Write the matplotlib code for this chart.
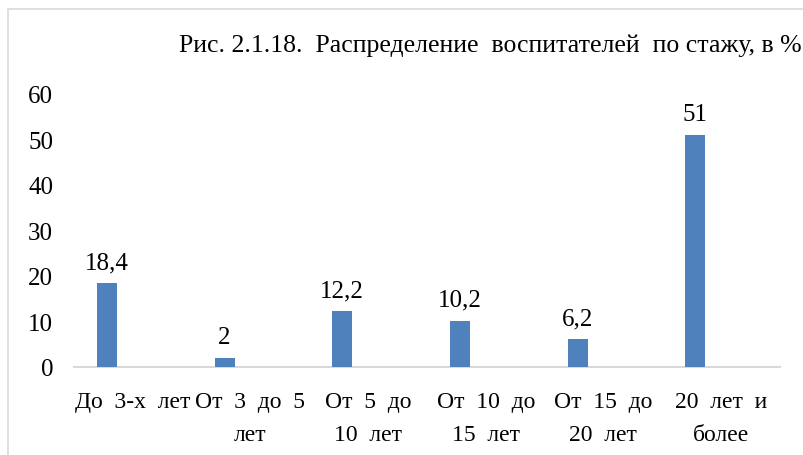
import matplotlib.pyplot as plt
import numpy as np
from matplotlib.patches import Rectangle

categories = ['До  3-х  лет', 'От  3  до  5\nлет', 'От  5  до\n10  лет',
              'От  10  до\n15  лет', 'От  15  до\n20  лет', '20  лет  и\nболее']
values = [18.4, 2, 12.2, 10.2, 6.2, 51]
value_labels = ['18,4', '2', '12,2', '10,2', '6,2', '51']
title = 'Рис. 2.1.18.  Распределение  воспитателей  по стажу, в %'

plt.rcParams['font.family'] = ['Liberation Serif', 'DejaVu Serif']

fig = plt.figure(figsize=(8.04, 4.56), dpi=100)
ax = fig.add_axes([0.092, 0.193, 0.878, 0.599])

x = np.arange(len(categories))
bars = ax.bar(x - 0.22, values, width=0.17, color='#4F81BD', zorder=3)

for b, lab in zip(bars, value_labels):
    ax.annotate(lab, (b.get_x() + b.get_width() / 2, b.get_height()),
                xytext=(0, 7), textcoords='offset points',
                ha='center', va='bottom', fontsize=18)

ax.set_xlim(-0.5, len(categories) - 0.5)
ax.set_ylim(0, 60)
ax.set_yticks(range(0, 61, 10))
ax.set_xticks(x)
ax.set_xticklabels(categories, fontsize=17, linespacing=1.8)
ax.tick_params(axis='y', length=0, labelsize=18, pad=15)
ax.tick_params(axis='x', length=0, pad=17)

for s in ['top', 'right', 'left']:
    ax.spines[s].set_visible(False)
ax.spines['bottom'].set_color('#D9D9D9')
ax.spines['bottom'].set_linewidth(1.5)

fig.text(0.997, 0.90, title, ha='right', va='center', fontsize=18.5)

fig.patches.append(Rectangle((8 / 804, -0.1), 1.2, 1.1 - 10 / 456,
                             transform=fig.transFigure, fill=False,
                             edgecolor='#D9D9D9', linewidth=1.2))

fig.savefig('out.png', dpi=100)
